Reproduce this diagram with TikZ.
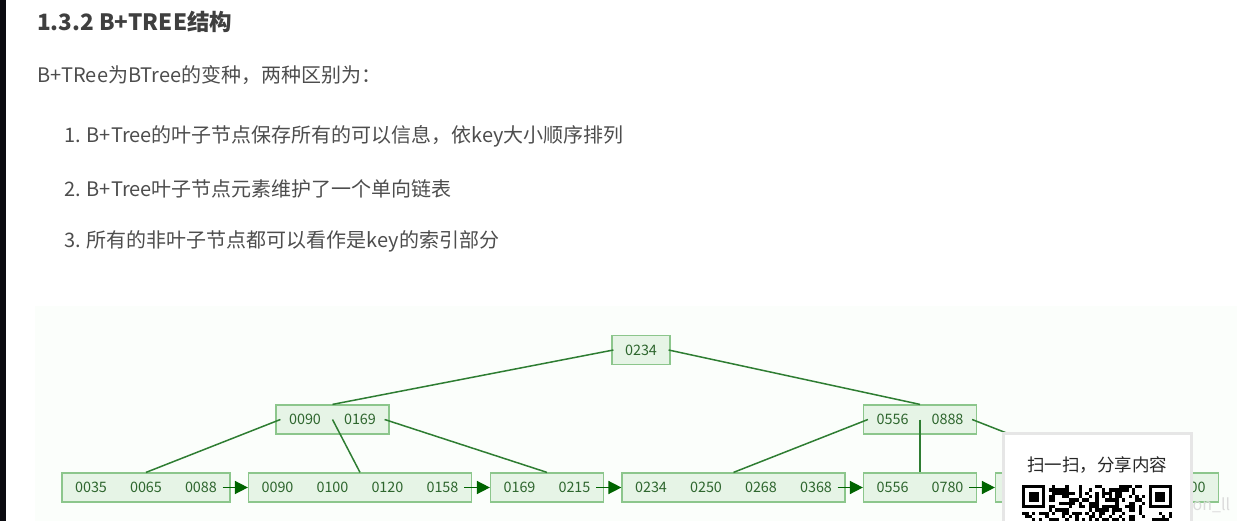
\documentclass[tikz,border=0pt]{standalone}
\usepackage{fontspec}
\setmainfont{Noto Sans CJK SC}
\usetikzlibrary{arrows.meta}
\definecolor{boxfill}{HTML}{E6F4E6}
\definecolor{boxline}{HTML}{8CC68C}
\definecolor{keytext}{HTML}{2E662E}
\definecolor{edgegreen}{HTML}{2E7D32}
\definecolor{arrowgreen}{HTML}{006400}
\definecolor{pagetext}{HTML}{4D4D4D}
\definecolor{headtext}{HTML}{3F3F3F}
\definecolor{diagbg}{HTML}{FBFEFB}
\definecolor{darkstrip}{HTML}{0B0B10}
\definecolor{popupline}{HTML}{E6E6E6}
\newcommand{\kb}[1]{\makebox[55pt]{#1}}

\begin{document}
\begin{tikzpicture}[x=1pt,y=-1pt,
  keybox/.style={draw=boxline, fill=boxfill, line width=1.2pt, inner xsep=1.5pt, inner ysep=0pt,
    minimum height=29pt, text=keytext, font=\fontsize{14.4}{16}\selectfont},
  treeline/.style={edgegreen, line width=1.5pt},
  nextarrow/.style={arrowgreen, line width=1.5pt, -{Triangle[length=13pt,width=13pt]}},
  bodytext/.style={anchor=west, inner sep=0pt, text=pagetext, font=\fontsize{20}{24}\selectfont}]
\useasboundingbox (0,0) rectangle (1245,521);
\clip (0,0) rectangle (1245,521);

% page
\fill[darkstrip] (0,0) rectangle (6,521);
\node[anchor=west, inner sep=0pt, text=headtext, font=\fontsize{22.5}{26}\selectfont\bfseries] (title) at (37,22) {1.3.2 B+TREE结构};
\node[bodytext] (intro) at (37,75) {B+TRee为BTree的变种，两种区别为：};
\node[bodytext] (item1) at (64,136) {1. B+Tree的叶子节点保存所有的可以信息，依key大小顺序排列};
\node[bodytext] (item2) at (64,189) {2. B+Tree叶子节点元素维护了一个单向链表};
\node[bodytext] (item3) at (64,241) {3. 所有的非叶子节点都可以看作是key的索引部分};

% diagram
\fill[diagbg] (35,306) rectangle (1237,521);

% root + index nodes
\node[keybox] (root) at (641,350) {\kb{0234}};
\node[keybox] (int1) at (332.5,419.5) {\kb{0090}\kb{0169}};
\node[keybox] (int2) at (920,419.5) {\kb{0556}\kb{0888}};

% leaves
\node[keybox] (l1) at (146,487.5) {\kb{0035}\kb{0065}\kb{0088}};
\node[keybox] (l2) at (360,487.5) {\kb{0090}\kb{0100}\kb{0120}\kb{0158}};
\node[keybox] (l3) at (547,487.5) {\kb{0169}\kb{0215}};
\node[keybox] (l4) at (733.5,487.5) {\kb{0234}\kb{0250}\kb{0268}\kb{0368}};
\node[keybox] (l5) at (920,487.5) {\kb{0556}\kb{0780}};
\node[keybox] (l6) at (1107,487.5) {\kb{}\kb{}\kb{}\kb{\phantom{00}00}};

% links
\draw[treeline] ([xshift=2pt]root.west) -- (int1.north);
\draw[treeline] ([xshift=-2pt]root.east) -- (int2.north);
\draw[treeline] ([xshift=5pt]int1.west) -- (l1.north);
\draw[treeline] (int1.center) -- (l2.north);
\draw[treeline] ([xshift=-5pt]int1.east) -- (l3.north);
\draw[treeline] ([xshift=5pt]int2.west) -- (l4.north);
\draw[treeline] (int2.center) -- (l5.north);
\draw[treeline] ([xshift=-5pt]int2.east) -- (l6.north);

% leaf chain
\draw[nextarrow] ([xshift=-8pt]l1.east) -- (l2.west);
\draw[nextarrow] ([xshift=-8pt]l2.east) -- (l3.west);
\draw[nextarrow] ([xshift=-8pt]l3.east) -- (l4.west);
\draw[nextarrow] ([xshift=-8pt]l4.east) -- (l5.west);
\draw[nextarrow] ([xshift=-8pt]l5.east) -- (l6.west);

\node[anchor=west, inner sep=0pt, text=black!14, font=\fontsize{16}{18}\selectfont] (mark) at (1188,505) {ion\_ll};

% share popup
\filldraw[fill=white, draw=popupline, line width=3pt] (1003,433) rectangle (1191,540);
\node[text=black!85, font=\fontsize{17.5}{20}\selectfont] (share) at (1097,465) {扫一扫，分享内容};
\begin{scope}[shift={(1022,485)}, x=3.333pt, y=-3.333pt]
  \pgfmathsetseed{11}
  \foreach \c in {0,...,44}
    \foreach \r in {0,...,10} {
      \pgfmathtruncatemacro\on{(rnd<0.5) && !((\r<8) && ((\c<8) || (\c>36)))}
      \ifnum\on=1 \fill[black] (\c,\r) rectangle ++(1,1); \fi
    }
  \foreach \c in {0,38} {
    \fill[black] (\c,0) rectangle ++(7,7);
    \fill[white] (\c+1,1) rectangle ++(5,5);
    \fill[black] (\c+2,2) rectangle ++(3,3);
  }
\end{scope}
\end{tikzpicture}
\end{document}
